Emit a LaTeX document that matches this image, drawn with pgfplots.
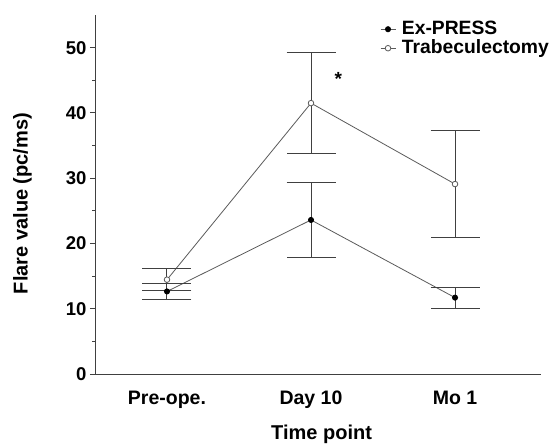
\documentclass[border=0pt]{standalone}
\usepackage{fontspec}
\setmainfont{Liberation Sans}
\usepackage{pgfplots}
\pgfplotsset{compat=1.18}
\definecolor{linegray}{HTML}{5A5A5A}
\definecolor{bargray}{HTML}{404040}
\begin{document}
\begin{tikzpicture}
\begin{axis}[
  scale only axis, width=445pt, height=359pt,
  xmin=-0.493, xmax=2.597, ymin=0, ymax=55,
  axis lines=left, axis line style={-, line width=1pt, black!75},
  xtick={0,1,2}, xticklabels={Pre-ope.,Day 10,Mo 1},
  xtick style={draw=none},
  ytick={0,10,20,30,40,50}, minor ytick={5,15,25,35,45},
  ytick style={line width=1pt, black!75}, major tick length=6pt, minor tick length=3.5pt,
  tick align=outside,
  /pgf/number format/assume math mode=true,
  yticklabel style={font=\fontsize{18.5}{20}\selectfont\bfseries},
  xticklabel style={font=\fontsize{19.5}{21}\selectfont\bfseries, inner sep=0pt, anchor=north, yshift=-11pt},
  xlabel={Time point}, ylabel={Flare value (pc/ms)},
  label style={font=\fontsize{20}{22}\selectfont\bfseries},
  xlabel style={at={(axis description cs:0.507,-0.142)}, anchor=north, inner sep=0pt},
  ylabel style={at={(axis description cs:-0.1865,0.475)}, anchor=north, inner sep=0pt},
  legend style={draw=none, fill=none, at={(0.638,0.986)}, anchor=north west,
    font=\fontsize{19.3}{21}\selectfont\bfseries, inner sep=0pt, row sep=1pt,
    nodes={inner sep=0pt, text height=14pt, text depth=4pt},
    /tikz/every odd column/.append style={column sep=6pt}},
  legend cell align=left,
  legend image code/.code={
    \draw[#1, mark repeat=2, mark phase=2] plot coordinates {(0pt,0pt) (7.5pt,0pt) (15pt,0pt)};},
  clip=false,
]
\addplot+[linegray, line width=0.8pt, mark=*, mark size=2.6pt, mark options={fill=black, draw=black},
  error bars/.cd, y dir=both, y explicit,
  error bar style={bargray, line width=1pt},
  error mark options={rotate=90, mark size=24.5pt, bargray, line width=1pt}]
  table[x=X, y=Y, y error=E, row sep=\\]{
  X Y E \\
  0 12.65 1.25 \\
  1 23.6 5.7 \\
  2 11.7 1.6 \\
};
\addlegendentry{Ex-PRESS}
\addplot+[linegray, line width=0.8pt, mark=*, mark size=2.8pt, mark options={fill=white, draw=linegray},
  error bars/.cd, y dir=both, y explicit,
  error bar style={bargray, line width=1pt},
  error mark options={rotate=90, mark size=24.5pt, bargray, line width=1pt}]
  table[x=X, y=Y, y error=E, row sep=\\]{
  X Y E \\
  0 14.45 1.65 \\
  1 41.5 7.75 \\
  2 29.1 8.25 \\
};
\addlegendentry{Trabeculectomy}
\node[font=\fontsize{19}{19}\selectfont\bfseries, anchor=base, inner sep=0pt] at (axis cs:1.19,44.2) {*};
\coordinate (bl) at (rel axis cs:0,0);
\end{axis}
\pgfresetboundingbox
\path[use as bounding box] (bl) ++(-96pt,-70pt) rectangle ++(554pt,444pt);
\end{tikzpicture}
\end{document}
